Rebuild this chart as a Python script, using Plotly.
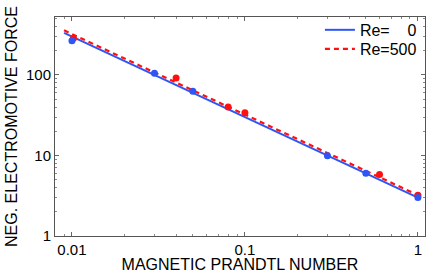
import plotly.graph_objects as go

# data
pm_re0 = [0.01, 0.03, 0.05, 0.3, 0.5, 1.0]
emf_re0 = [267, 105, 63, 9.9, 6.0, 3.0]
pm_re500 = [0.0102, 0.04, 0.08, 0.1, 0.6, 1.0]
emf_re500 = [285, 92, 40, 34, 5.8, 3.2]

fit_pm = [0.009, 1.0]
fit_re0 = [333, 3.0]
fit_re500 = [358, 3.22]

x_tickvals = [0.01, 0.1, 1]
x_ticktext = ["0.01", "0.1", "1"]
y_tickvals = [1, 10, 100]
y_ticktext = ["1", "10", "100"]

BLUE = "#2f55f5"
RED = "#ff1010"
FONT = "Liberation Sans, Arial, Helvetica, sans-serif"

fig = go.Figure()
fig.add_trace(go.Scatter(x=fit_pm, y=fit_re0, mode="lines",
                         line=dict(color=BLUE, width=2),
                         name="Re=\u00a0\u00a0\u00a0\u00a00", legend="legend"))
fig.add_trace(go.Scatter(x=fit_pm, y=fit_re500, mode="lines",
                         line=dict(color=RED, width=2.2, dash="5px,4px"),
                         name="Re=500", legend="legend2"))
fig.add_trace(go.Scatter(x=pm_re500, y=emf_re500, mode="markers",
                         marker=dict(color=RED, size=7), showlegend=False))
fig.add_trace(go.Scatter(x=pm_re0, y=emf_re0, mode="markers",
                         marker=dict(color=BLUE, size=7), showlegend=False))

axis_common = dict(
    type="log", showgrid=False, zeroline=False, automargin=False,
    showline=True, linecolor="#555", linewidth=1, mirror="allticks",
    ticks="inside", ticklen=4, tickcolor="#666", tickwidth=1,
    tickfont=dict(family=FONT, size=15, color="black"),
    minor=dict(ticks="inside", ticklen=2, tickcolor="#888", dtick="D1", showgrid=False),
)

fig.update_xaxes(**axis_common, range=[-2.098, 0.041],
                 tickvals=x_tickvals, ticktext=x_ticktext,
                 title=dict(text="MAGNETIC PRANDTL NUMBER",
                            font=dict(family=FONT, size=16, color="black"), standoff=0))
fig.update_yaxes(**axis_common, range=[0, 2.72],
                 tickvals=y_tickvals, ticktext=y_ticktext,
                 title=dict(text="NEG. ELECTROMOTIVE FORCE",
                            font=dict(family=FONT, size=16, color="black"), standoff=4))

legend_common = dict(xanchor="left", yanchor="middle", bgcolor="rgba(0,0,0,0)",
                     font=dict(family=FONT, size=16, color="black"), itemwidth=30)

fig.update_layout(
    width=436, height=273,
    margin=dict(l=55, r=11, t=17, b=37),
    paper_bgcolor="white", plot_bgcolor="white",
    font=dict(family=FONT, size=15, color="black"),
    legend=dict(x=0.716, y=0.941, **legend_common),
    legend2=dict(x=0.716, y=0.854, **legend_common),
)

fig.write_html("out.html", config={"displayModeBar": False},
               post_script="document.body.style.margin='0px';")
